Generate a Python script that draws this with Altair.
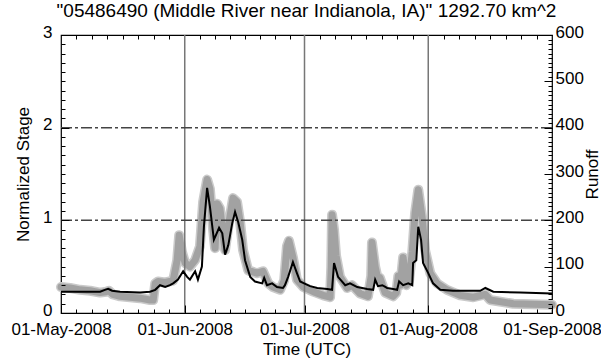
import altair as alt
import pandas as pd

START = pd.Timestamp("2008-05-01")

# Observed normalized stage (days since 01-May-2008, stage)
stage_day = [0.0, 2.3, 4.8, 7.3, 9.8, 11.3, 12.0, 13.0, 14.8, 17.3, 19.8, 22.3, 23.1,
             23.6, 24.3, 26.1, 28.1, 29.1, 29.6, 30.3, 31.1, 32.3, 33.6, 34.8, 35.6,
             36.6, 37.3, 38.1, 38.6, 39.1, 39.8, 41.1, 41.9, 43.1, 44.1, 44.9, 45.6,
             46.9, 49.1, 50.6, 51.9, 53.1, 54.9, 55.9, 56.6, 57.1, 58.1, 59.1, 60.7,
             63.2, 65.7, 67.4, 67.7, 67.9, 68.4, 68.9, 69.9, 71.7, 72.9, 74.9, 76.9,
             77.7, 77.9, 78.7, 79.4, 79.9, 81.2, 83.2, 84.0, 84.5, 85.0, 85.7, 86.5,
             87.2, 88.0, 88.7, 89.5, 90.5, 91.2, 92.5, 94.2, 96.7, 100.0, 103.3,
             106.3, 107.5, 113.3, 123.0]
stage_value = [0.28, 0.27, 0.25, 0.24, 0.22, 0.23, 0.24, 0.20, 0.18, 0.17, 0.16, 0.14, 0.14,
               0.32, 0.34, 0.33, 0.35, 0.57, 0.84, 0.66, 0.54, 0.50, 0.57, 0.72, 1.20,
               1.44, 1.34, 0.90, 0.70, 1.18, 1.13, 0.68, 0.93, 1.24, 1.20, 0.97, 0.68,
               0.46, 0.43, 0.45, 0.32, 0.28, 0.25, 0.35, 0.72, 0.78, 0.60, 0.36, 0.28,
               0.23, 0.19, 0.17, 0.50, 1.06, 0.90, 0.62, 0.39, 0.27, 0.30, 0.21, 0.18,
               0.40, 0.76, 0.50, 0.36, 0.38, 0.22, 0.18, 0.22, 0.40, 0.30, 0.60, 0.30,
               0.35, 0.66, 1.08, 1.33, 1.02, 0.68, 0.43, 0.32, 0.25, 0.19, 0.17,
               0.20, 0.14, 0.10, 0.09]

# Simulated runoff (days since 01-May-2008, runoff)
runoff_day = [0.0, 4.8, 9.8, 11.0, 11.8, 12.8, 14.8, 19.8, 22.3, 23.6, 24.8, 26.1, 27.3,
              28.1, 29.3, 30.6, 31.6, 32.3, 33.6, 34.3, 35.3, 35.8, 36.6, 37.3, 38.3,
              39.6, 40.4, 41.1, 41.9, 42.9, 43.6, 44.4, 45.4, 46.1, 47.4, 48.6, 50.4,
              50.9, 51.6, 52.9, 54.1, 55.6, 56.1, 56.9, 58.1, 59.1, 59.9, 60.9, 62.4,
              64.2, 66.7, 67.9, 68.4, 69.4, 71.2, 72.4, 74.2, 76.7, 78.2, 78.7, 79.4,
              80.5, 81.7, 83.2, 84.2, 84.7, 85.7, 87.0, 88.0, 88.2, 89.0, 89.5, 90.2,
              90.7, 92.0, 93.2, 95.0, 98.2, 105.0, 106.3, 108.3, 115.0, 123.0]
runoff_value = [46, 46, 46, 50, 52, 48, 46, 44, 46, 50, 60, 56, 60,
                64, 72, 90, 78, 72, 90, 72, 100, 186, 270, 230, 158,
                184, 172, 126, 146, 194, 218, 196, 158, 114, 78, 68, 64,
                76, 60, 64, 56, 54, 60, 78, 110, 86, 68, 64, 58,
                54, 52, 50, 108, 78, 60, 64, 56, 52, 50, 72, 58,
                60, 54, 52, 50, 68, 60, 64, 60, 108, 114, 186, 158,
                108, 86, 64, 50, 48, 48, 54, 46, 44, 42]

month_starts = ["2008-05-01", "2008-06-01", "2008-07-01", "2008-08-01", "2008-09-01"]
month_lines = ["2008-06-01", "2008-07-01", "2008-08-01"]
stage_levels = [1, 2]

stage = pd.DataFrame({"time": START + pd.to_timedelta(stage_day, unit="D"),
                      "stage": stage_value})
runoff = pd.DataFrame({"time": START + pd.to_timedelta(runoff_day, unit="D"),
                       "runoff": runoff_value})
months = pd.DataFrame({"time": pd.to_datetime(month_lines), "lo": 0, "hi": 600})
levels = pd.DataFrame({"stage": stage_levels})


def dt(ts):
    return alt.DateTime(year=ts.year, month=ts.month, date=ts.day,
                        hours=ts.hour, minutes=ts.minute)


month_ts = [pd.Timestamp(m) for m in month_starts]
major_x = [dt(t) for t in month_ts]
minor_x = []
for a, b in zip(month_ts[:-1], month_ts[1:]):
    for k in range(1, 8):
        minor_x.append(dt(a + (b - a) * k / 8))

x_scale = alt.Scale(domain=[major_x[0], major_x[-1]], nice=False)
stage_scale = alt.Scale(domain=[0, 3], nice=False, zero=False)
runoff_scale = alt.Scale(domain=[0, 600], nice=False, zero=False)

FONT = "Liberation Sans"
FS = 17


def tick_axis(orient, values, size):
    return alt.Axis(orient=orient, values=values, tickSize=size, offset=-size,
                    labels=False, domain=False, grid=False, title=None,
                    tickColor="black", zindex=2)


x_main = alt.Axis(orient="bottom", values=major_x, format="%d-%b-%Y",
                  tickSize=8, offset=-8, domain=False, grid=False,
                  labelPadding=8, labelFlush=False, labelOverlap=False,
                  title="Time (UTC)", titlePadding=4, zindex=2)
y_left = alt.Axis(orient="left", values=[0, 1, 2, 3], format="d",
                  tickSize=8, offset=-8, domain=False, grid=False,
                  labelPadding=9, labelFlush=False, labelOverlap=False,
                  labelOffset=-3,
                  title="Normalized Stage", titlePadding=10, zindex=2)
y_right = alt.Axis(orient="right", values=list(range(0, 601, 100)), format="d",
                   tickSize=8, offset=-8, domain=False, grid=False,
                   labelPadding=3, labelFlush=False, labelOverlap=False,
                   labelOffset=-3,
                   title="Runoff", titleAngle=270, titlePadding=18, zindex=2)

stage_halo = alt.Chart(stage).mark_line(
    color="#cacaca", strokeWidth=10, strokeJoin="round", strokeCap="round"
).encode(
    x=alt.X("time:T", scale=x_scale, axis=x_main),
    y=alt.Y("stage:Q", scale=stage_scale, axis=y_left),
)

stage_core = alt.Chart(stage).mark_line(
    color="#a2a2a2", strokeWidth=7, strokeJoin="round", strokeCap="round"
).encode(
    x=alt.X("time:T", scale=x_scale, axis=tick_axis("bottom", minor_x, 4)),
    y=alt.Y("stage:Q", scale=stage_scale,
            axis=tick_axis("left", [round(i * 0.1, 1) for i in range(31)], 4)),
)

month_rules = alt.Chart(months).mark_rule(color="#777777", strokeWidth=1.5).encode(
    x=alt.X("time:T", scale=x_scale, axis=tick_axis("top", minor_x, 4)),
    y=alt.Y("lo:Q", scale=runoff_scale,
            axis=tick_axis("right", list(range(0, 601, 10)), 4)),
    y2="hi:Q",
)

level_rules = alt.Chart(levels).mark_rule(
    color="#444444", strokeWidth=1.5, strokeDash=[11, 3, 3, 3]
).encode(
    y=alt.Y("stage:Q", scale=stage_scale, axis=None),
)

runoff_line = alt.Chart(runoff).mark_line(color="black", strokeWidth=2).encode(
    x=alt.X("time:T", scale=x_scale, axis=None),
    y=alt.Y("runoff:Q", scale=runoff_scale, axis=y_right),
)

chart = alt.layer(
    stage_halo, stage_core, month_rules, level_rules, runoff_line
).resolve_scale(
    y="independent"
).resolve_axis(
    x="independent", y="independent"
).properties(
    width=491,
    height=278,
    autosize=alt.AutoSizeParams(type="none"),
    padding={"left": 61, "top": 35, "right": 49, "bottom": 48},
    title=alt.TitleParams(
        '"05486490 (Middle River near Indianola, IA)" 1292.70 km^2',
        font=FONT, fontSize=19, fontWeight="normal", color="black",
        anchor="middle", offset=2,
    ),
).configure(
    font=FONT,
    background="white",
).configure_view(
    stroke="black", strokeWidth=1.2,
).configure_axis(
    labelFont=FONT, labelFontSize=FS, labelColor="black",
    titleFont=FONT, titleFontSize=FS, titleFontWeight="normal", titleColor="black",
    tickColor="black", tickWidth=1,
)

chart.save("out.html", embed_options={"renderer": "svg", "actions": False})
